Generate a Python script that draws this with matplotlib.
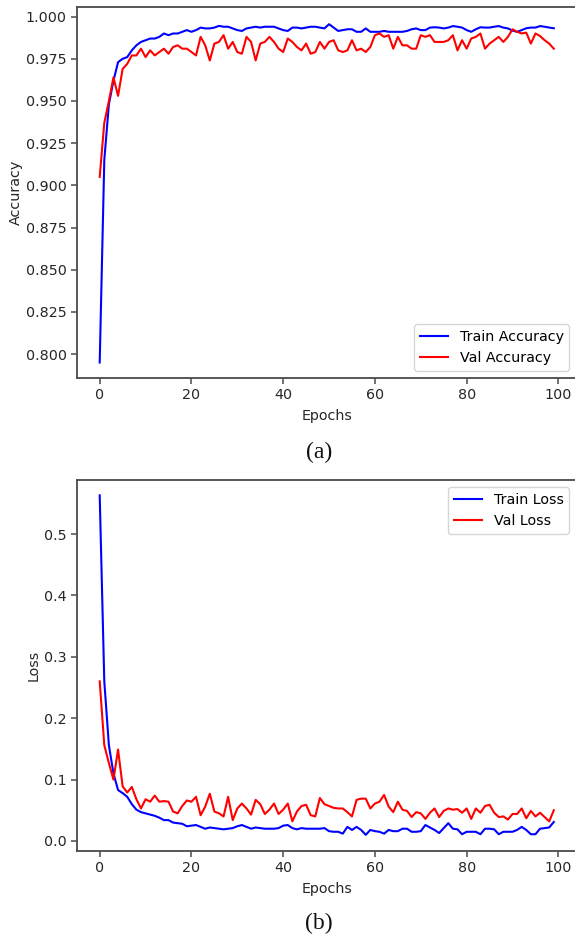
import matplotlib as mpl
mpl.use('Agg')
import matplotlib.pyplot as plt
import numpy as np

# values, one per epoch (0..99)
epochs = np.arange(100)

train_acc = [0.795, 0.915, 0.948, 0.962, 0.973, 0.975, 0.976, 0.980, 0.983, 0.985,
             0.986, 0.987, 0.987, 0.988, 0.990, 0.989, 0.990, 0.990, 0.991, 0.992,
             0.991, 0.992, 0.9935, 0.993, 0.993, 0.9935, 0.9945, 0.994, 0.994, 0.993,
             0.992, 0.9915, 0.993, 0.9935, 0.994, 0.9935, 0.994, 0.994, 0.994, 0.993,
             0.992, 0.9915, 0.9935, 0.9935, 0.993, 0.9935, 0.994, 0.994, 0.9935, 0.993,
             0.9955, 0.9935, 0.9915, 0.992, 0.9925, 0.9925, 0.991, 0.991, 0.993, 0.991,
             0.991, 0.991, 0.9915, 0.991, 0.991, 0.991, 0.991, 0.9915, 0.9925, 0.993,
             0.992, 0.992, 0.9935, 0.9937, 0.9935, 0.993, 0.9935, 0.9944, 0.994, 0.9935,
             0.992, 0.991, 0.9925, 0.9937, 0.9935, 0.9935, 0.994, 0.9944, 0.9935, 0.993,
             0.9917, 0.991, 0.992, 0.9931, 0.9935, 0.9935, 0.9944, 0.994, 0.9935, 0.9931]

val_acc = [0.905, 0.937, 0.950, 0.964, 0.953, 0.969, 0.972, 0.977, 0.977, 0.981,
           0.976, 0.980, 0.977, 0.979, 0.981, 0.978, 0.982, 0.983, 0.981, 0.981,
           0.979, 0.977, 0.988, 0.983, 0.974, 0.984, 0.985, 0.989, 0.981, 0.985,
           0.979, 0.978, 0.988, 0.985, 0.974, 0.984, 0.985, 0.988, 0.985, 0.981,
           0.979, 0.987, 0.985, 0.982, 0.980, 0.984, 0.978, 0.979, 0.985, 0.981,
           0.985, 0.986, 0.980, 0.979, 0.980, 0.986, 0.980, 0.981, 0.979, 0.982,
           0.989, 0.990, 0.988, 0.989, 0.981, 0.988, 0.983, 0.983, 0.981, 0.981,
           0.989, 0.988, 0.989, 0.985, 0.985, 0.985, 0.986, 0.989, 0.980, 0.986,
           0.981, 0.987, 0.988, 0.990, 0.981, 0.984, 0.986, 0.988, 0.985, 0.988,
           0.9925, 0.991, 0.990, 0.9905, 0.984, 0.990, 0.9885, 0.986, 0.984, 0.981]

train_loss = [0.563, 0.260, 0.156, 0.110, 0.083, 0.078, 0.072, 0.060, 0.051, 0.047,
              0.045, 0.043, 0.041, 0.038, 0.034, 0.034, 0.030, 0.029, 0.028, 0.024,
              0.025, 0.026, 0.023, 0.020, 0.022, 0.021, 0.020, 0.019, 0.020, 0.021,
              0.024, 0.026, 0.023, 0.020, 0.022, 0.021, 0.020, 0.020, 0.020, 0.021,
              0.025, 0.026, 0.021, 0.019, 0.021, 0.020, 0.020, 0.020, 0.020, 0.021,
              0.016, 0.015, 0.015, 0.012, 0.023, 0.018, 0.023, 0.018, 0.010, 0.018,
              0.016, 0.015, 0.012, 0.018, 0.016, 0.016, 0.020, 0.020, 0.015, 0.015,
              0.016, 0.026, 0.022, 0.018, 0.013, 0.021, 0.029, 0.020, 0.019, 0.011,
              0.015, 0.015, 0.015, 0.011, 0.020, 0.020, 0.019, 0.011, 0.015, 0.015,
              0.015, 0.018, 0.023, 0.018, 0.011, 0.011, 0.020, 0.021, 0.022, 0.031]

val_loss = [0.260, 0.156, 0.127, 0.100, 0.149, 0.089, 0.079, 0.088, 0.068, 0.053,
            0.068, 0.064, 0.074, 0.064, 0.065, 0.064, 0.048, 0.045, 0.057, 0.066,
            0.064, 0.072, 0.042, 0.056, 0.077, 0.048, 0.045, 0.040, 0.072, 0.034,
            0.053, 0.061, 0.053, 0.043, 0.067, 0.060, 0.044, 0.051, 0.061, 0.044,
            0.051, 0.061, 0.032, 0.048, 0.057, 0.059, 0.042, 0.040, 0.070, 0.060,
            0.057, 0.054, 0.053, 0.053, 0.047, 0.040, 0.067, 0.069, 0.069, 0.053,
            0.061, 0.064, 0.075, 0.056, 0.047, 0.064, 0.051, 0.049, 0.039, 0.047,
            0.045, 0.036, 0.046, 0.053, 0.039, 0.049, 0.053, 0.051, 0.052, 0.046,
            0.053, 0.036, 0.053, 0.046, 0.057, 0.059, 0.046, 0.039, 0.040, 0.035,
            0.044, 0.044, 0.053, 0.037, 0.049, 0.040, 0.046, 0.039, 0.032, 0.050]

acc_ticks = [0.800, 0.825, 0.850, 0.875, 0.900, 0.925, 0.950, 0.975, 1.000]
loss_ticks = [0.0, 0.1, 0.2, 0.3, 0.4, 0.5]

W = 575.0; H = 939.0
fsiz = 10.3
txtc = '#262626'
spc = '#4a4a4a'

plt.rcParams['font.family'] = 'DejaVu Sans'
plt.rcParams['font.size'] = fsiz

fig = plt.figure(figsize=(W/100.0, H/100.0), dpi=100)
fig.patch.set_facecolor('white')

def style(ax):
	for s in ax.spines.values():
		s.set_color(spc)
		s.set_linewidth(1.3)
	ax.tick_params(colors=spc, labelcolor=txtc, labelsize=fsiz, length=4.0, width=1.1)

# (a) accuracy
l, r = 77.0, 576.5
ax1 = fig.add_axes([l/W, (H-378.0)/H, (r-l)/W, 371.0/H])
ax1.plot(epochs, train_acc, color='blue', lw=1.5, label='Train Accuracy')
ax1.plot(epochs, val_acc, color='red', lw=1.5, label='Val Accuracy')
ax1.set_xlim(-4.95, 103.95)
ax1.set_ylim(0.7858, 1.0057)
ax1.set_yticks(acc_ticks)
ax1.set_yticklabels(['%.3f' % t for t in acc_ticks])
ax1.set_xticks([0, 20, 40, 60, 80, 100])
ax1.set_xlabel('Epochs', color=txtc, fontsize=fsiz, labelpad=5)
ax1.set_ylabel('Accuracy', color=txtc, fontsize=fsiz, labelpad=2)
style(ax1)
ax1.legend(loc='lower right', fontsize=fsiz, framealpha=0.8, edgecolor='0.8')

# (b) loss
ax2 = fig.add_axes([l/W, (H-851.0)/H, (r-l)/W, 371.0/H])
ax2.plot(epochs, train_loss, color='blue', lw=1.5, label='Train Loss')
ax2.plot(epochs, val_loss, color='red', lw=1.5, label='Val Loss')
ax2.set_xlim(-4.95, 103.95)
ax2.set_ylim(-0.0163, 0.588)
ax2.set_yticks(loss_ticks)
ax2.set_yticklabels(['%.1f' % t for t in loss_ticks])
ax2.set_xticks([0, 20, 40, 60, 80, 100])
ax2.set_xlabel('Epochs', color=txtc, fontsize=fsiz, labelpad=5)
ax2.set_ylabel('Loss', color=txtc, fontsize=fsiz, labelpad=2)
style(ax2)
ax2.legend(loc='upper right', fontsize=fsiz, framealpha=0.8, edgecolor='0.8')

# captions
fig.text(319.0/W, 1-452.0/H, '(a)', ha='center', va='center', family='Liberation Serif', size=17, color='#111111')
fig.text(319.0/W, 1-923.0/H, '(b)', ha='center', va='center', family='Liberation Serif', size=17, color='#111111')

fig.savefig('out.png', dpi=100)
